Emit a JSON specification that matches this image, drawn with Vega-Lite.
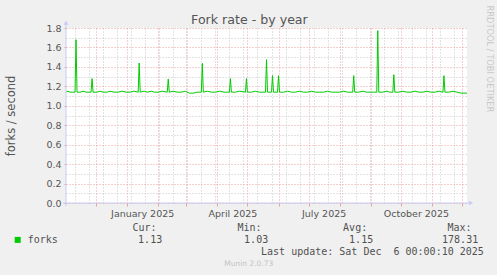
{
  "$schema": "https://vega.github.io/schema/vega-lite/v6.json",
  "background": "#f0f0f0",
  "padding": {"left": 5, "top": 5, "right": 6, "bottom": 6},
  "title": {"text": "Fork rate - by year", "font": "DejaVu Sans", "fontSize": 12.6, "fontWeight": "normal", "color": "#555555", "anchor": "middle", "frame": "bounds", "offset": -21.6},
  "config": {
    "view": {"stroke": null},
    "axis": {"labelFont": "DejaVu Sans", "labelColor": "#555555", "titleFont": "DejaVu Sans", "titleFontWeight": "normal", "titleColor": "#555555"}
  },
  "spacing": 4.5,
  "vconcat": [
    {
      "width": 401,
      "height": 175,
      "view": {"fill": "white", "stroke": null},
      "resolve": {"axis": {"x": "independent", "y": "independent"}},
      "layer": [
        {
          "data": {"values": [
            {"date": "2024-11-01T00:00", "forks": 1.14},
            {"date": "2024-11-03T00:00", "forks": 1.15},
            {"date": "2024-11-05T00:00", "forks": 1.14},
            {"date": "2024-11-08T00:00", "forks": 1.14},
            {"date": "2024-11-10T00:00", "forks": 1.14},
            {"date": "2024-11-11T00:00", "forks": 1.68},
            {"date": "2024-11-12T00:00", "forks": 1.14},
            {"date": "2024-11-15T00:00", "forks": 1.14},
            {"date": "2024-11-18T00:00", "forks": 1.15},
            {"date": "2024-11-21T00:00", "forks": 1.14},
            {"date": "2024-11-26T00:00", "forks": 1.14},
            {"date": "2024-11-27T00:00", "forks": 1.28},
            {"date": "2024-11-28T00:00", "forks": 1.14},
            {"date": "2024-12-02T00:00", "forks": 1.14},
            {"date": "2024-12-05T00:00", "forks": 1.15},
            {"date": "2024-12-08T00:00", "forks": 1.14},
            {"date": "2024-12-12T00:00", "forks": 1.14},
            {"date": "2024-12-15T00:00", "forks": 1.15},
            {"date": "2024-12-19T00:00", "forks": 1.14},
            {"date": "2024-12-23T00:00", "forks": 1.14},
            {"date": "2024-12-27T00:00", "forks": 1.15},
            {"date": "2024-12-31T00:00", "forks": 1.14},
            {"date": "2025-01-04T00:00", "forks": 1.14},
            {"date": "2025-01-08T00:00", "forks": 1.15},
            {"date": "2025-01-12T00:00", "forks": 1.14},
            {"date": "2025-01-13T00:00", "forks": 1.44},
            {"date": "2025-01-14T00:00", "forks": 1.14},
            {"date": "2025-01-18T00:00", "forks": 1.15},
            {"date": "2025-01-21T00:00", "forks": 1.14},
            {"date": "2025-01-25T00:00", "forks": 1.15},
            {"date": "2025-01-28T00:00", "forks": 1.14},
            {"date": "2025-02-01T00:00", "forks": 1.14},
            {"date": "2025-02-05T00:00", "forks": 1.15},
            {"date": "2025-02-10T00:00", "forks": 1.14},
            {"date": "2025-02-11T00:00", "forks": 1.275},
            {"date": "2025-02-12T00:00", "forks": 1.14},
            {"date": "2025-02-16T00:00", "forks": 1.15},
            {"date": "2025-02-20T00:00", "forks": 1.14},
            {"date": "2025-02-24T00:00", "forks": 1.14},
            {"date": "2025-02-28T00:00", "forks": 1.15},
            {"date": "2025-03-04T00:00", "forks": 1.13},
            {"date": "2025-03-08T00:00", "forks": 1.13},
            {"date": "2025-03-12T00:00", "forks": 1.14},
            {"date": "2025-03-16T00:00", "forks": 1.14},
            {"date": "2025-03-17T00:00", "forks": 1.436},
            {"date": "2025-03-18T00:00", "forks": 1.14},
            {"date": "2025-03-22T00:00", "forks": 1.15},
            {"date": "2025-03-26T00:00", "forks": 1.14},
            {"date": "2025-03-30T00:00", "forks": 1.14},
            {"date": "2025-04-03T00:00", "forks": 1.15},
            {"date": "2025-04-08T00:00", "forks": 1.14},
            {"date": "2025-04-13T00:00", "forks": 1.14},
            {"date": "2025-04-14T00:00", "forks": 1.28},
            {"date": "2025-04-15T00:00", "forks": 1.14},
            {"date": "2025-04-19T00:00", "forks": 1.14},
            {"date": "2025-04-23T00:00", "forks": 1.15},
            {"date": "2025-04-29T00:00", "forks": 1.14},
            {"date": "2025-04-30T00:00", "forks": 1.28},
            {"date": "2025-05-01T00:00", "forks": 1.14},
            {"date": "2025-05-05T00:00", "forks": 1.14},
            {"date": "2025-05-09T00:00", "forks": 1.15},
            {"date": "2025-05-13T00:00", "forks": 1.14},
            {"date": "2025-05-19T00:00", "forks": 1.14},
            {"date": "2025-05-20T00:00", "forks": 1.474},
            {"date": "2025-05-21T00:00", "forks": 1.14},
            {"date": "2025-05-25T00:00", "forks": 1.14},
            {"date": "2025-05-26T00:00", "forks": 1.31},
            {"date": "2025-05-27T00:00", "forks": 1.14},
            {"date": "2025-05-31T00:00", "forks": 1.14},
            {"date": "2025-06-01T00:00", "forks": 1.31},
            {"date": "2025-06-02T00:00", "forks": 1.14},
            {"date": "2025-06-06T00:00", "forks": 1.14},
            {"date": "2025-06-10T00:00", "forks": 1.15},
            {"date": "2025-06-14T00:00", "forks": 1.14},
            {"date": "2025-06-18T00:00", "forks": 1.14},
            {"date": "2025-06-22T00:00", "forks": 1.15},
            {"date": "2025-06-26T00:00", "forks": 1.14},
            {"date": "2025-06-30T00:00", "forks": 1.14},
            {"date": "2025-07-04T00:00", "forks": 1.15},
            {"date": "2025-07-08T00:00", "forks": 1.14},
            {"date": "2025-07-12T00:00", "forks": 1.14},
            {"date": "2025-07-16T00:00", "forks": 1.14},
            {"date": "2025-07-20T00:00", "forks": 1.15},
            {"date": "2025-07-24T00:00", "forks": 1.14},
            {"date": "2025-07-28T00:00", "forks": 1.14},
            {"date": "2025-08-01T00:00", "forks": 1.14},
            {"date": "2025-08-05T00:00", "forks": 1.15},
            {"date": "2025-08-09T00:00", "forks": 1.14},
            {"date": "2025-08-14T00:00", "forks": 1.14},
            {"date": "2025-08-15T00:00", "forks": 1.31},
            {"date": "2025-08-16T00:00", "forks": 1.14},
            {"date": "2025-08-20T00:00", "forks": 1.14},
            {"date": "2025-08-24T00:00", "forks": 1.15},
            {"date": "2025-08-28T00:00", "forks": 1.14},
            {"date": "2025-09-01T00:00", "forks": 1.14},
            {"date": "2025-09-04T00:00", "forks": 1.14},
            {"date": "2025-09-07T00:00", "forks": 1.14},
            {"date": "2025-09-08T00:00", "forks": 1.773},
            {"date": "2025-09-09T00:00", "forks": 1.14},
            {"date": "2025-09-13T00:00", "forks": 1.14},
            {"date": "2025-09-17T00:00", "forks": 1.15},
            {"date": "2025-09-20T00:00", "forks": 1.14},
            {"date": "2025-09-23T00:00", "forks": 1.14},
            {"date": "2025-09-24T00:00", "forks": 1.32},
            {"date": "2025-09-25T00:00", "forks": 1.14},
            {"date": "2025-09-29T00:00", "forks": 1.14},
            {"date": "2025-10-03T00:00", "forks": 1.15},
            {"date": "2025-10-07T00:00", "forks": 1.14},
            {"date": "2025-10-11T00:00", "forks": 1.14},
            {"date": "2025-10-15T00:00", "forks": 1.15},
            {"date": "2025-10-19T00:00", "forks": 1.14},
            {"date": "2025-10-23T00:00", "forks": 1.14},
            {"date": "2025-10-27T00:00", "forks": 1.15},
            {"date": "2025-10-31T00:00", "forks": 1.14},
            {"date": "2025-11-04T00:00", "forks": 1.14},
            {"date": "2025-11-08T00:00", "forks": 1.15},
            {"date": "2025-11-12T00:00", "forks": 1.14},
            {"date": "2025-11-13T00:00", "forks": 1.31},
            {"date": "2025-11-14T00:00", "forks": 1.14},
            {"date": "2025-11-18T00:00", "forks": 1.14},
            {"date": "2025-11-22T00:00", "forks": 1.15},
            {"date": "2025-11-26T00:00", "forks": 1.14},
            {"date": "2025-11-30T00:00", "forks": 1.13},
            {"date": "2025-12-03T00:00", "forks": 1.13},
            {"date": "2025-12-06T00:00", "forks": 1.13}
          ]},
          "mark": {"type": "line", "color": "#00cc00", "strokeWidth": 1, "interpolate": "linear"},
          "encoding": {
            "x": {
              "field": "date", "type": "temporal",
              "scale": {"domain": [{"year": 2024, "month": 11, "date": 1}, {"year": 2025, "month": 12, "date": 6}]},
              "axis": {
                "orient": "bottom", "title": null, "grid": false, "ticks": false, "tickSize": 0, "domain": false,
                "values": [{"year": 2025, "month": 1, "date": 16}, {"year": 2025, "month": 4, "date": 16}, {"year": 2025, "month": 7, "date": 16}, {"year": 2025, "month": 10, "date": 16}],
                "format": "%B %Y", "formatType": "time", "labelFontSize": 9.5, "labelPadding": 5.5, "labelFlush": false, "labelOverlap": false
              }
            },
            "y": {
              "field": "forks", "type": "quantitative",
              "scale": {"domain": [0, 1.8], "nice": false, "zero": false},
              "axis": {
                "orient": "left", "values": [0, 0.2, 0.4, 0.6, 0.8, 1.0, 1.2, 1.4, 1.6, 1.8], "format": ".1f",
                "grid": true, "gridColor": "#eaa0a0", "gridDash": [1, 2], "gridWidth": 1,
                "ticks": true, "tickSize": 2, "tickColor": "#e8a0a0", "domain": false,
                "labelFontSize": 9.5, "labelPadding": 3,
                "title": "forks / second", "titleFontSize": 11.5, "titlePadding": 29
              }
            }
          }
        },
        {
          "data": {"values": [{}]},
          "mark": {"type": "rule", "color": "#c8ccf4", "strokeWidth": 1},
          "encoding": {
            "x": {
              "datum": {"year": 2024, "month": 11, "date": 1}, "type": "temporal",
              "scale": {"domain": [{"year": 2024, "month": 11, "date": 1}, {"year": 2025, "month": 12, "date": 6}]},
              "axis": {
                "orient": "bottom", "title": null, "labels": false, "domain": false,
                "grid": true, "gridColor": "#eaa0a0", "gridDash": [1, 2],
                "ticks": true, "tickSize": 3, "tickColor": "#e8a0a0",
                "values": [
                  {"year": 2024, "month": 12, "date": 1}, {"year": 2025, "month": 1, "date": 1}, {"year": 2025, "month": 2, "date": 1},
                  {"year": 2025, "month": 3, "date": 1}, {"year": 2025, "month": 4, "date": 1}, {"year": 2025, "month": 5, "date": 1},
                  {"year": 2025, "month": 6, "date": 1}, {"year": 2025, "month": 7, "date": 1}, {"year": 2025, "month": 8, "date": 1},
                  {"year": 2025, "month": 9, "date": 1}, {"year": 2025, "month": 10, "date": 1}, {"year": 2025, "month": 11, "date": 1},
                  {"year": 2025, "month": 12, "date": 1}
                ]
              }
            },
            "y": {
              "datum": -0.03, "type": "quantitative",
              "scale": {"domain": [0, 1.8], "nice": false, "zero": false},
              "axis": {
                "orient": "left", "title": null, "labels": false, "ticks": false, "domain": false,
                "grid": true, "gridColor": "#c6c6c6", "gridDash": [1, 2],
                "values": [0.1, 0.3, 0.5, 0.7, 0.9, 1.1, 1.3, 1.5, 1.7]
              }
            },
            "y2": {"datum": 1.84}
          }
        },
        {
          "data": {"values": [{}]},
          "mark": {"type": "rule", "color": "#c8ccf4", "strokeWidth": 1},
          "encoding": {
            "y": {
              "datum": 0, "type": "quantitative",
              "scale": {"domain": [0, 1.8], "nice": false, "zero": false},
              "axis": {
                "orient": "right", "labels": false, "ticks": false, "domain": false, "grid": false,
                "title": "RRDTOOL / TOBI OETIKER", "titleFontSize": 8.3, "titleColor": "#c8c8c8",
                "titleAngle": 90, "titleX": 21, "titleY": -23, "titleAlign": "left", "titleBaseline": "middle"
              }
            },
            "x": {
              "datum": {"year": 2024, "month": 10, "date": 29}, "type": "temporal",
              "scale": {"domain": [{"year": 2024, "month": 11, "date": 1}, {"year": 2025, "month": 12, "date": 6}]},
              "axis": {
                "orient": "bottom", "title": null, "labels": false, "ticks": false, "domain": false,
                "grid": true, "gridColor": "#c6c6c6", "gridDash": [1, 2],
                "values": [
                  {"year": 2024, "month": 11, "date": 10}, {"year": 2024, "month": 11, "date": 24}, {"year": 2024, "month": 12, "date": 8},
                  {"year": 2024, "month": 12, "date": 22}, {"year": 2025, "month": 1, "date": 5}, {"year": 2025, "month": 1, "date": 19},
                  {"year": 2025, "month": 2, "date": 2}, {"year": 2025, "month": 2, "date": 16}, {"year": 2025, "month": 3, "date": 2},
                  {"year": 2025, "month": 3, "date": 16}, {"year": 2025, "month": 3, "date": 30}, {"year": 2025, "month": 4, "date": 13},
                  {"year": 2025, "month": 4, "date": 27}, {"year": 2025, "month": 5, "date": 11}, {"year": 2025, "month": 5, "date": 25},
                  {"year": 2025, "month": 6, "date": 8}, {"year": 2025, "month": 6, "date": 22}, {"year": 2025, "month": 7, "date": 6},
                  {"year": 2025, "month": 7, "date": 20}, {"year": 2025, "month": 8, "date": 3}, {"year": 2025, "month": 8, "date": 17},
                  {"year": 2025, "month": 8, "date": 31}, {"year": 2025, "month": 9, "date": 14}, {"year": 2025, "month": 9, "date": 28},
                  {"year": 2025, "month": 10, "date": 12}, {"year": 2025, "month": 10, "date": 26}, {"year": 2025, "month": 11, "date": 9},
                  {"year": 2025, "month": 11, "date": 23}
                ]
              }
            },
            "x2": {"datum": {"year": 2025, "month": 12, "date": 9}}
          }
        },
        {
          "data": {"values": [{}]},
          "mark": {"type": "point", "shape": "triangle-up", "filled": true, "size": 22, "color": "#c8ccf4", "opacity": 1},
          "encoding": {
            "x": {"datum": {"year": 2024, "month": 11, "date": 1}, "type": "temporal", "axis": null},
            "y": {"datum": 1.855, "type": "quantitative", "axis": null}
          }
        },
        {
          "data": {"values": [{}]},
          "mark": {"type": "point", "shape": "triangle-right", "filled": true, "size": 22, "color": "#c8ccf4", "opacity": 1},
          "encoding": {
            "x": {"datum": {"year": 2025, "month": 12, "date": 10}, "type": "temporal", "axis": null},
            "y": {"datum": 0, "type": "quantitative", "axis": null}
          }
        }
      ]
    },
    {
      "width": 420,
      "height": 46.4,
      "data": {"values": [
        {"kind": "swatch", "label": "", "pos": -11.5, "line": 1.5},
        {"kind": "left", "label": "forks", "pos": -9.12, "line": 1.5},
        {"kind": "right", "label": "Cur:", "pos": 21.55, "line": 0.5},
        {"kind": "right", "label": "1.13", "pos": 22.9, "line": 1.5},
        {"kind": "right", "label": "Min:", "pos": 46.55, "line": 0.5},
        {"kind": "right", "label": "1.03", "pos": 48.14, "line": 1.5},
        {"kind": "right", "label": "Avg:", "pos": 71.71, "line": 0.5},
        {"kind": "right", "label": "1.15", "pos": 73.14, "line": 1.5},
        {"kind": "right", "label": "Max:", "pos": 96.55, "line": 0.5},
        {"kind": "right", "label": "178.31", "pos": 98.14, "line": 1.5},
        {"kind": "right", "label": "Last update: Sat Dec\u00a0 6 00:00:10 2025", "pos": 99.48, "line": 2.5},
        {"kind": "credit", "label": "Munin 2.0.73", "pos": 43.52, "line": 3.6}
      ]},
      "encoding": {
        "x": {"field": "pos", "type": "quantitative", "scale": {"domain": [0, 100], "nice": false, "zero": false}, "axis": null},
        "y": {"field": "line", "type": "quantitative", "scale": {"domain": [0, 4], "nice": false, "zero": false, "reverse": true}, "axis": null}
      },
      "layer": [
        {
          "transform": [{"filter": "datum.kind == 'swatch'"}],
          "mark": {"type": "point", "shape": "square", "filled": true, "size": 36, "color": "#00cc00", "opacity": 1}
        },
        {
          "transform": [{"filter": "datum.kind == 'left'"}],
          "mark": {"type": "text", "align": "left", "baseline": "middle", "font": "DejaVu Sans Mono", "fontSize": 10, "color": "#505050"},
          "encoding": {"text": {"field": "label"}}
        },
        {
          "transform": [{"filter": "datum.kind == 'right'"}],
          "mark": {"type": "text", "align": "right", "baseline": "middle", "font": "DejaVu Sans Mono", "fontSize": 10, "color": "#505050"},
          "encoding": {"text": {"field": "label"}}
        },
        {
          "transform": [{"filter": "datum.kind == 'credit'"}],
          "mark": {"type": "text", "align": "center", "baseline": "middle", "font": "DejaVu Sans", "fontSize": 7.5, "color": "#c4c4c4"},
          "encoding": {"text": {"field": "label"}}
        }
      ]
    }
  ]
}
